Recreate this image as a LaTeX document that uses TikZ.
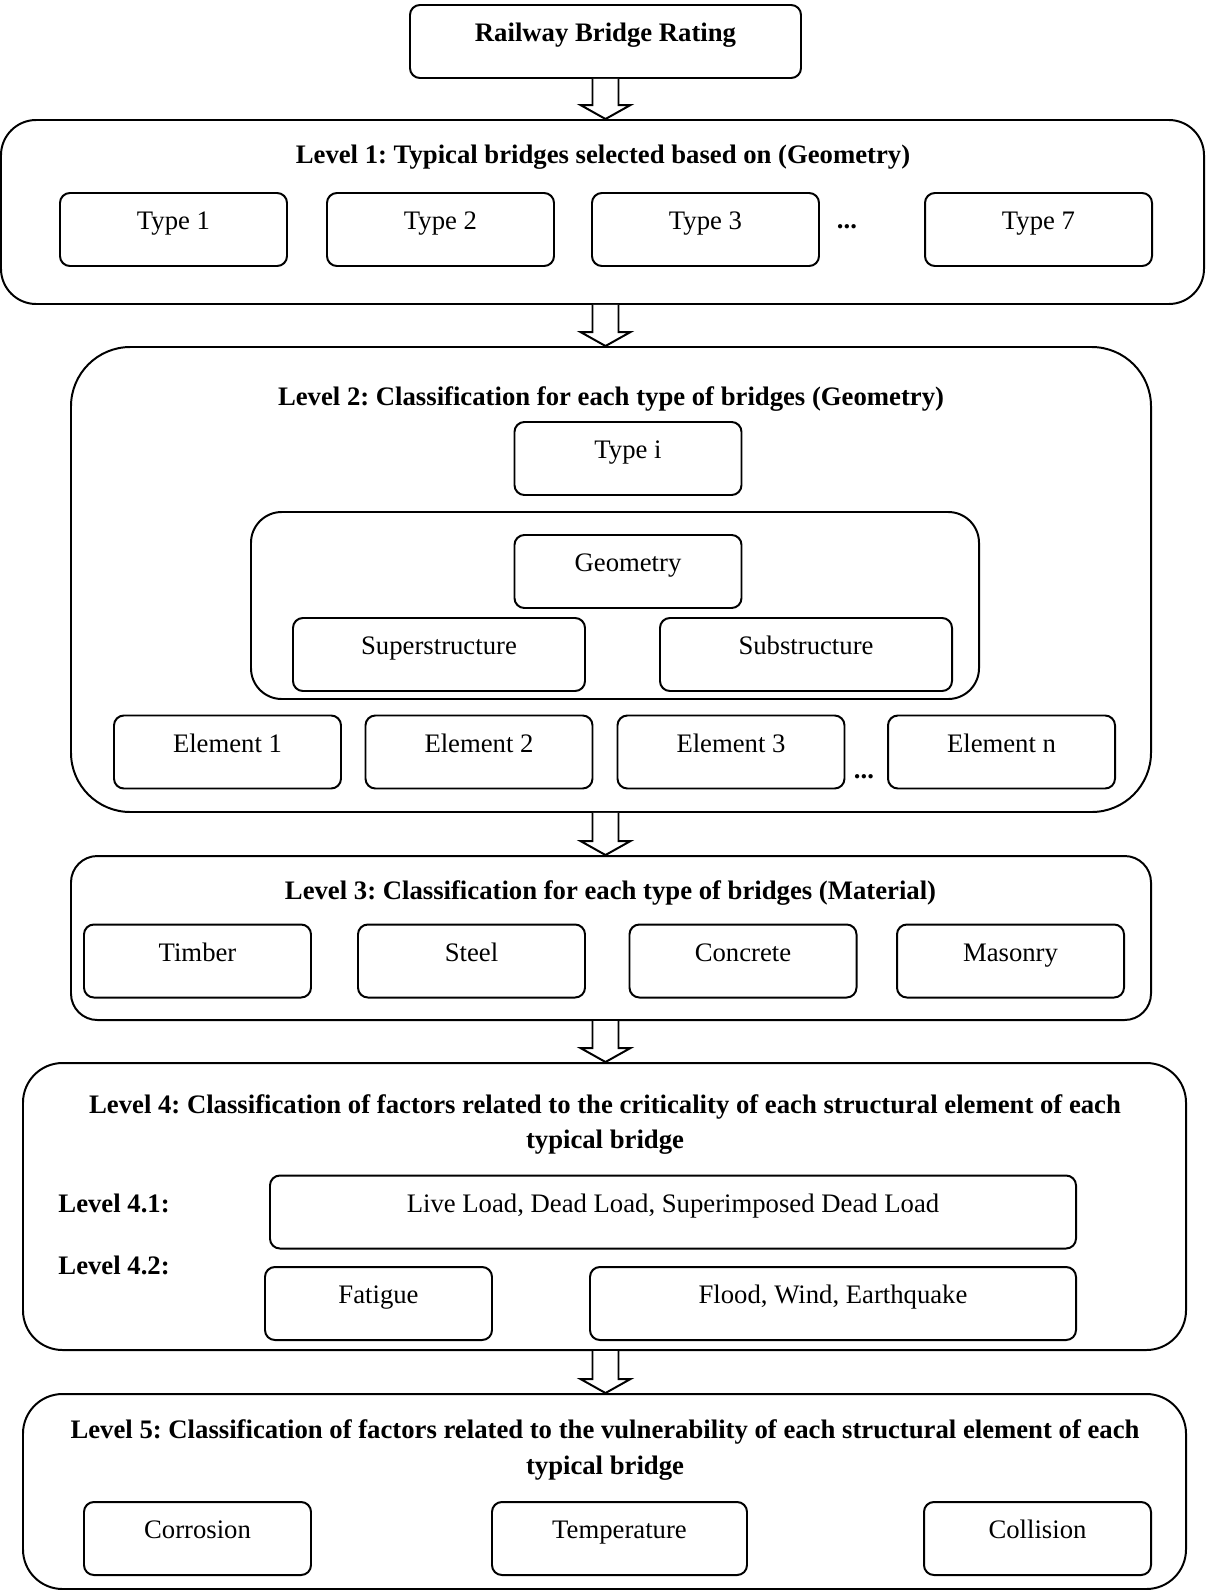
\documentclass[tikz,border=0pt,12pt]{standalone}
\usepackage{fontspec}
\setmainfont{Liberation Serif}
\usetikzlibrary{positioning, calc}
\newcommand{\pxu}{0.455pt}
% hollow block arrow from the bottom of #1 to the top of #2
\newcommand{\blockarrow}[2]{%
  \draw[hollow] ($(title |- #1.south)+(-13,0)$) -- ($(title |- #2.north)+(-13,-14)$) -- ++(-12,0)
    -- (title |- #2.north) -- ($(title |- #2.north)+(25,-14)$) -- ++(-12,0) -- ($(title |- #1.south)+(13,0)$);}

\begin{document}
\frenchspacing
\fontsize{12.15}{16}\selectfont
\begin{tikzpicture}[
        x=0.455pt, y=-0.455pt,
        box/.style={rectangle, draw=black, line width=0.9pt, rounded corners=4.5pt, inner sep=0pt,
            minimum width=227*\pxu, minimum height=73*\pxu, text height=8pt, text depth=8pt},
        group/.style={rectangle, draw=black, line width=0.9pt, inner sep=0pt},
        heading/.style={font=\bfseries, align=center, inner sep=0pt},
        dots/.style={font=\bfseries, anchor=base, inner sep=0pt},
        hollow/.style={draw=black, line width=0.9pt, fill=white, line join=miter}
    ]
        \useasboundingbox (0,0) rectangle (1205,1590);

        % Containers
        \node[box, minimum width=391*\pxu, font=\bfseries] (title) at (605.5,41.5) {Railway Bridge Rating};
        \node[group, rounded corners=16pt, minimum width=1203*\pxu, minimum height=184*\pxu] (lvl1) at (602.5,212) {};
        \node[group, rounded corners=27pt, minimum width=1080*\pxu, minimum height=465*\pxu] (lvl2) at (611,579.5) {};
        \node[group, rounded corners=12pt, minimum width=1080*\pxu, minimum height=164*\pxu] (lvl3) at (611,938) {};
        \node[group, rounded corners=18pt, minimum width=1163*\pxu, minimum height=287*\pxu] (lvl4) at (604.5,1206.5) {};
        \node[group, rounded corners=18pt, minimum width=1163*\pxu, minimum height=195*\pxu] (lvl5) at (604.5,1491.5) {};

        % Level 1
        \node[heading] (head1) at (603,157) {Level 1: Typical bridges selected based on (Geometry)};
        \node[box] (type1) at (173.5,229.5) {Type 1};
        \node[box] (type2) at (440.5,229.5) {Type 2};
        \node[box] (type3) at (705.5,229.5) {Type 3};
        \node[dots] (dots1) at (847,228) {...};
        \node[box] (type7) at (1038.5,229.5) {Type 7};

        % Level 2
        \node[heading] (head2) at (611,399) {Level 2: Classification for each type of bridges (Geometry)};
        \node[box] (typei) at (628,458.5) {Type i};
        \node[group, rounded corners=14pt, minimum width=728*\pxu, minimum height=187*\pxu] (parts) at (615,605.5) {};
        \node[box] (geometry) at (628,571.5) {Geometry};
        \node[box, minimum width=292*\pxu] (super) at (439,654.5) {Superstructure};
        \node[box, minimum width=292*\pxu] (sub) at (806,654.5) {Substructure};
        \node[box] (elem1) at (227.5,752) {Element 1};
        \node[box] (elem2) at (479,752) {Element 2};
        \node[box] (elem3) at (731,752) {Element 3};
        \node[dots] (dots2) at (864,778) {...};
        \node[box] (elemn) at (1001.5,752) {Element n};

        % Level 3
        \node[heading] (head3) at (610.5,893) {Level 3: Classification for each type of bridges (Material)};
        \node[box] (timber) at (197.5,961) {Timber};
        \node[box] (steel) at (471.5,961) {Steel};
        \node[box] (concrete) at (743,961) {Concrete};
        \node[box] (masonry) at (1010.5,961) {Masonry};

        % Level 4
        \node[heading] (head4) at (605,1124.5) {Level 4: Classification of factors related to the criticality of each structural element of each\\typical bridge};
        \node[heading, anchor=west] (lab41) at (58,1203) {Level 4.1:};
        \node[heading, anchor=west] (lab42) at (58,1265) {Level 4.2:};
        \node[box, minimum width=806*\pxu] (loads) at (673,1212) {Live Load, Dead Load, Superimposed Dead Load};
        \node[box] (fatigue) at (378.5,1303.5) {Fatigue};
        \node[box, minimum width=486*\pxu] (hazards) at (833,1303.5) {Flood, Wind, Earthquake};

        % Level 5
        \node[heading] (head5) at (605,1450) {Level 5: Classification of factors related to the vulnerability of each structural element of each\\typical bridge};
        \node[box] (corrosion) at (197.5,1538.5) {Corrosion};
        \node[box, minimum width=255*\pxu] (temperature) at (619.5,1538.5) {Temperature};
        \node[box] (collision) at (1037.5,1538.5) {Collision};

        % Connectors
        \blockarrow{title}{lvl1}
        \blockarrow{lvl1}{lvl2}
        \blockarrow{lvl2}{lvl3}
        \blockarrow{lvl3}{lvl4}
        \blockarrow{lvl4}{lvl5}
    \end{tikzpicture}
\end{document}
